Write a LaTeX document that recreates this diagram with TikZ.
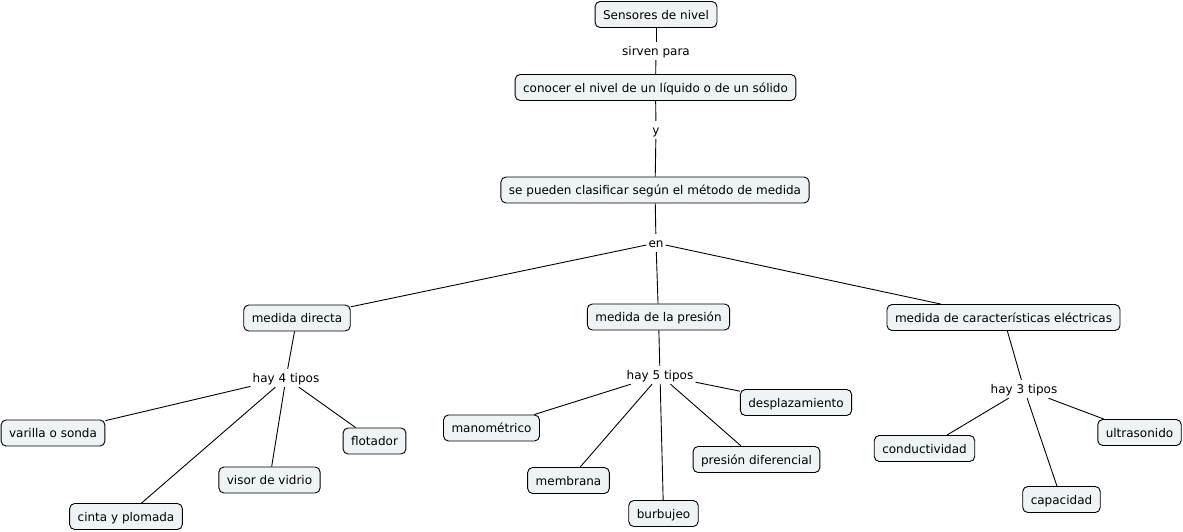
\documentclass[tikz,border=0pt]{standalone}
\usepackage{fontspec}
\setmainfont{DejaVu Sans}
\definecolor{cfill}{RGB}{238,244,246}
\begin{document}
\begin{tikzpicture}[x=1pt,y=-1pt,
  concept/.style={draw=black,line width=0.9pt,fill=cfill,rounded corners=5pt,
    inner xsep=8pt,inner ysep=0pt,minimum height=26pt,text height=10.8pt,text depth=1.2pt,
    font=\fontsize{12pt}{14pt}\selectfont},
  link/.style={inner xsep=2pt,inner ysep=3pt,text height=10.8pt,text depth=1.2pt,
    font=\fontsize{12pt}{14pt}\selectfont},
  conn/.style={line width=0.9pt}]
\useasboundingbox (0,0) rectangle (1183,532);
\node[concept] (s1) at (656,14.5) {Sensores de nivel};
\node[link] (l1) at (656,51) {sirven para};
\node[concept] (s2) at (655.5,87.5) {conocer el nivel de un líquido o de un sólido};
\node[link] (l2) at (656,130) {y};
\node[concept] (s3) at (655,190) {se pueden clasificar según el método de medida};
\node[link] (l3) at (656,243) {en};
\node[concept] (md) at (297,318) {medida directa};
\node[concept] (mp) at (658.5,317) {medida de la presión};
\node[concept] (mc) at (1003.5,317.5) {medida de características eléctricas};
\node[link] (l4) at (286,378) {hay 4 tipos};
\node[concept] (varilla) at (53,433) {varilla o sonda};
\node[concept] (cinta) at (126,516.5) {cinta y plomada};
\node[concept] (visor) at (269.5,480) {visor de vidrio};
\node[concept] (flot) at (374.5,441) {flotador};
\node[link] (l5) at (660,375) {hay 5 tipos};
\node[concept] (mano) at (491.5,428) {manométrico};
\node[concept] (memb) at (568.5,480.5) {membrana};
\node[concept] (burb) at (663.5,513.5) {burbujeo};
\node[concept] (pdif) at (756.5,459.5) {presión diferencial};
\node[concept] (despl) at (796,402.5) {desplazamiento};
\node[link] (l6) at (1024,389) {hay 3 tipos};
\node[concept] (cond) at (924.5,448.5) {conductividad};
\node[concept] (cap) at (1061.5,499.5) {capacidad};
\node[concept] (ultra) at (1139.5,432.5) {ultrasonido};
\draw[conn] (s1) -- (l1);
\draw[conn] (l1) -- (s2);
\draw[conn] (s2) -- (l2);
\draw[conn] (l2) -- (s3);
\draw[conn] (s3) -- (l3);
\draw[conn] (l3) -- (md);
\draw[conn] (l3) -- (mp);
\draw[conn] (l3) -- (mc);
\draw[conn] (md) -- (l4);
\draw[conn] (l4) -- (varilla);
\draw[conn] (l4) -- (cinta);
\draw[conn] (l4) -- (visor);
\draw[conn] (l4) -- (flot);
\draw[conn] (mp) -- (l5);
\draw[conn] (l5) -- (mano);
\draw[conn] (l5) -- (memb);
\draw[conn] (l5) -- (burb);
\draw[conn] (l5) -- (pdif);
\draw[conn] (l5) -- (despl);
\draw[conn] (mc) -- (l6);
\draw[conn] (l6) -- (cond);
\draw[conn] (l6) -- (cap);
\draw[conn] (l6) -- (ultra);
\end{tikzpicture}
\end{document}
